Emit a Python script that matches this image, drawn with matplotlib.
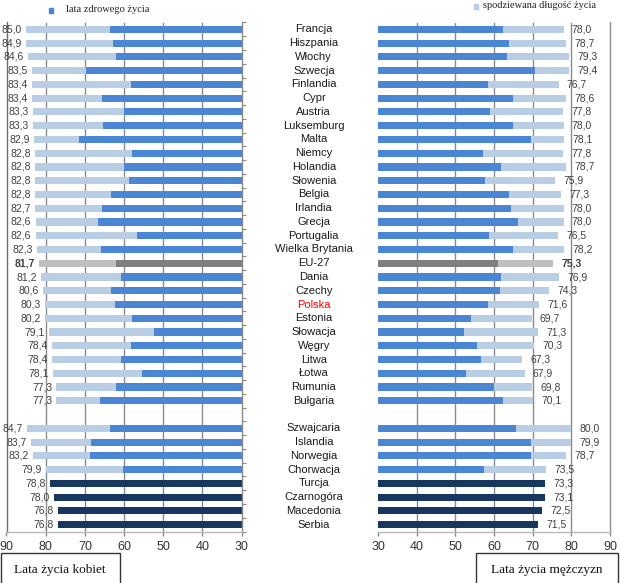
import numpy as np
import matplotlib.pyplot as plt
from matplotlib.patches import Rectangle
from matplotlib.transforms import blended_transform_factory

# --- data (empty string = gap row) ---
countries = ['Francja', 'Hiszpania', 'Włochy', 'Szwecja', 'Finlandia', 'Cypr', 'Austria',
             'Luksemburg', 'Malta', 'Niemcy', 'Holandia', 'Słowenia', 'Belgia', 'Irlandia',
             'Grecja', 'Portugalia', 'Wielka Brytania', 'EU-27', 'Dania', 'Czechy', 'Polska',
             'Estonia', 'Słowacja', 'Węgry', 'Litwa', 'Łotwa', 'Rumunia', 'Bułgaria', '',
             'Szwajcaria', 'Islandia', 'Norwegia', 'Chorwacja', 'Turcja', 'Czarnogóra',
             'Macedonia', 'Serbia']

women_le = [85.0, 84.9, 84.6, 83.5, 83.4, 83.4, 83.3, 83.3, 82.9, 82.8, 82.8, 82.8, 82.8, 82.7,
            82.6, 82.6, 82.3, 81.7, 81.2, 80.6, 80.3, 80.2, 79.1, 78.4, 78.4, 78.1, 77.3, 77.3,
            None, 84.7, 83.7, 83.2, 79.9, 78.8, 78.0, 76.8, 76.8]
women_hly = [63.6, 62.9, 62.1, 69.7, 58.3, 65.6, 60.0, 65.3, 71.4, 57.9, 59.9, 58.7, 63.3, 65.6,
             66.7, 56.6, 65.9, 62.1, 60.9, 63.3, 62.4, 58.0, 52.3, 58.2, 60.9, 55.5, 62.1, 66.1,
             None, 63.6, 68.5, 68.7, 60.4, None, None, None, None]

men_le = [78.0, 78.7, 79.3, 79.4, 76.7, 78.6, 77.8, 78.0, 78.1, 77.8, 78.7, 75.9, 77.3, 78.0,
          78.0, 76.5, 78.2, 75.3, 76.9, 74.3, 71.6, 69.7, 71.3, 70.3, 67.3, 67.9, 69.8, 70.1,
          None, 80.0, 79.9, 78.7, 73.5, 73.3, 73.1, 72.5, 71.5]
men_hly = [62.4, 63.8, 63.3, 70.6, 58.4, 64.9, 59.0, 64.9, 69.6, 57.1, 61.7, 57.8, 63.8, 64.4,
           66.1, 58.8, 65.0, 61.0, 61.9, 61.5, 58.4, 54.0, 52.2, 55.6, 56.6, 52.7, 60.0, 62.4,
           None, 65.6, 69.6, 69.5, 57.4, None, None, None, None]

non_eu_only_total = ['Turcja', 'Czarnogóra', 'Macedonia', 'Serbia']

# colours
c_light = '#B9CDE5'
c_dark = '#4A86D4'
c_navy = '#17375E'
c_eu_light = '#BFBFBF'
c_eu_dark = '#7F7F7F'
c_grid = '#8A8A8A'


def arr(v):
    return np.array([np.nan if x is None else x for x in v], dtype=float)


women_le, women_hly = arr(women_le), arr(women_hly)
men_le, men_hly = arr(men_le), arr(men_hly)
y = np.arange(len(countries))

light_cols, dark_cols = [], []
for c in countries:
    if c == 'EU-27':
        light_cols.append(c_eu_light)
        dark_cols.append(c_eu_dark)
    elif c in non_eu_only_total:
        light_cols.append(c_navy)
        dark_cols.append(c_navy)
    else:
        light_cols.append(c_light)
        dark_cols.append(c_dark)

plt.rcParams['font.family'] = ['Liberation Sans', 'DejaVu Sans']

fig = plt.figure(figsize=(6.21, 5.83), dpi=100)
H = 583.0
W = 621.0
bottom = 1 - 531.5 / H
height = 509.0 / H
ax1 = fig.add_axes([6.5 / W, bottom, (241.7 - 6.5) / W, height])
ax2 = fig.add_axes([378.0 / W, bottom, (610.0 - 378.0) / W, height])

bh = 0.52
for ax, le, hly, side in [(ax1, women_le, women_hly, 'L'), (ax2, men_le, men_hly, 'R')]:
    ax.barh(y, le - 30, left=30, height=bh, color=light_cols, zorder=2)
    ax.barh(y, hly - 30, left=30, height=bh, color=dark_cols, zorder=3)
    ax.set_ylim(len(countries) - 0.5, -0.5)
    ax.set_xticks(range(30, 91, 10))
    for gx in range(40, 90, 10):
        ax.axvline(gx, color=c_grid, lw=1.0, zorder=0)
    ax.tick_params(axis='x', labelsize=9, length=3, width=1, color=c_grid, pad=4,
                   labelcolor='#333333')
    for s in ax.spines.values():
        s.set_color(c_grid)
        s.set_linewidth(1.0)
    ax.spines['top'].set_visible(False)
    ax.spines['bottom'].set_color('#BBBBBB')

    for yi, v, name in zip(y, le, countries):
        if np.isnan(v):
            continue
        lab = f'{v:.1f}'.replace('.', ',')
        weight = 'bold' if name == 'EU-27' else 'normal'
        if side == 'L':
            ax.annotate(lab, (v, yi), xytext=(-3, 0), textcoords='offset points',
                        ha='right', va='center', fontsize=7.5, color='#404040',
                        fontweight=weight, annotation_clip=False)
        else:
            ax.annotate(lab, (v, yi), xytext=(6, 0), textcoords='offset points',
                        ha='left', va='center', fontsize=7.5, color='#404040',
                        fontweight=weight, annotation_clip=False)

ax1.set_xlim(90, 30)
ax2.set_xlim(30, 90)

# left panel: ticks between categories on its right spine
ax1.yaxis.tick_right()
ax1.set_yticks(np.arange(-0.5, len(countries), 1))
ax1.set_yticklabels([])
ax1.tick_params(axis='y', direction='out', length=3, color=c_grid)
ax1.spines['left'].set_color('#6E6E6E')

ax2.spines['left'].set_visible(False)
ax2.set_yticks([])

# category names in the middle
tr = blended_transform_factory(fig.transFigure, ax1.transData)
for yi, name in zip(y, countries):
    if not name:
        continue
    fig.text(313.8 / W, yi, name, transform=tr, ha='center', va='center', fontsize=8,
             color='red' if name == 'Polska' else '#1A1A1A')

# legend entries
serif = ['Liberation Serif', 'DejaVu Serif']
fig.patches.append(Rectangle((48.5 / W, 1 - 12.5 / H), 4.5 / W, 4.5 / H, color=c_dark,
                             transform=fig.transFigure, figure=fig))
fig.text(66.0 / W, 1 - 10.0 / H, 'lata zdrowego życia', ha='left', va='center',
         fontsize=7.5, family=serif, color='#222222')
fig.patches.append(Rectangle((473.5 / W, 1 - 8.5 / H), 4.5 / W, 4.5 / H, color=c_light,
                             transform=fig.transFigure, figure=fig))
fig.text(483.0 / W, 1 - 6.0 / H, 'spodziewana długość życia', ha='left', va='center',
         fontsize=7.5, family=serif, color='#222222')

# boxed captions
for x0, x1, txt in [(0.5, 120.0, 'Lata życia kobiet'), (476.0, 618.0, 'Lata życia mężczyzn')]:
    fig.patches.append(Rectangle((x0 / W, -0.01), (x1 - x0) / W, 1 - 553.3 / H + 0.01,
                                 fill=False, edgecolor='#333333', lw=1.0,
                                 transform=fig.transFigure, figure=fig))
    fig.text((x0 + x1) / 2 / W, 1 - 570.0 / H, txt, ha='center', va='center',
             fontsize=9.5, family=serif, color='#111111')

fig.savefig('out.png', dpi=100)
